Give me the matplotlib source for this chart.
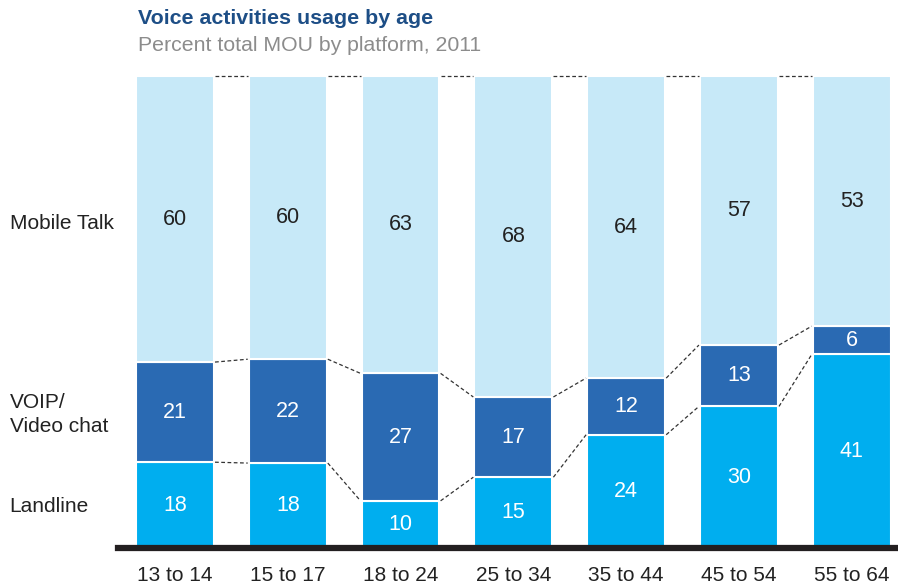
import matplotlib.pyplot as plt
import numpy as np

plt.rcParams["font.family"] = ["Liberation Sans", "DejaVu Sans"]

age_groups = ["13 to 14", "15 to 17", "18 to 24", "25 to 34", "35 to 44", "45 to 54", "55 to 64"]
landline = [18, 18, 10, 15, 24, 30, 41]
voip = [21, 22, 27, 17, 12, 13, 6]
mobile = [60, 60, 63, 68, 64, 57, 53]
row_labels = ["Landline", "VOIP/\nVideo chat", "Mobile Talk"]

c_land = "#00AEEF"
c_voip = "#2A6AB3"
c_mobile = "#C7E9F8"

fig = plt.figure(figsize=(8.98, 5.86), dpi=100)
ax = fig.add_axes([0.1314, 0.0648, 0.8686, 0.8055])

x = np.arange(len(age_groups))
width = 0.69
land = np.array(landline, dtype=float)
vo = np.array(voip, dtype=float)
mob = np.array(mobile, dtype=float)

# 100% stacked: scale each column to its own total
total = land + vo + mob
land_s = land / total * 100
vo_s = vo / total * 100
mob_s = mob / total * 100

ax.bar(x, land_s, width, color=c_land, edgecolor="white", linewidth=1.5)
ax.bar(x, vo_s, width, bottom=land_s, color=c_voip, edgecolor="white", linewidth=1.5)
ax.bar(x, mob_s, width, bottom=land_s + vo_s, color=c_mobile, edgecolor="white", linewidth=1.5)

# value labels in the middle of each segment
for i in x:
    ax.text(i, land_s[i] / 2, f"{landline[i]}", ha="center", va="center", color="white", fontsize=15.5)
    ax.text(i, land_s[i] + vo_s[i] / 2, f"{voip[i]}", ha="center", va="center", color="white", fontsize=15.5)
    ax.text(i, land_s[i] + vo_s[i] + mob_s[i] / 2, f"{mobile[i]}", ha="center", va="center",
            color="#222222", fontsize=15.5)

# dashed connectors between neighbouring bars
levels = [land_s, land_s + vo_s, land_s + vo_s + mob_s]
for lv in levels:
    for i in range(len(x) - 1):
        ax.plot([x[i] + width / 2 + 0.01, x[i + 1] - width / 2 - 0.01], [lv[i], lv[i + 1]],
                color="#333333", linestyle=(0, (3, 2)), linewidth=0.9, clip_on=False)

ax.set_xlim(-0.505, 6.41)
ax.set_ylim(0, 100)
ax.axhline(0, color="#231F20", linewidth=4.5, clip_on=False)

ax.set_xticks(x)
ax.set_xticklabels(age_groups, fontsize=15, color="#222222")
ax.tick_params(axis="x", length=0, pad=13)
ax.set_yticks([])
for s in ax.spines.values():
    s.set_visible(False)

# row labels on the left, against the first bar
first = [land_s[0] / 2 - 0.3, land_s[0] + vo_s[0] / 2 - 0.5, land_s[0] + vo_s[0] + mob_s[0] / 2 - 1.0]
for lbl, yv in zip(row_labels, first):
    ax.text(-0.505 - 0.96, yv, lbl, ha="left", va="center", fontsize=15, color="#222222",
            linespacing=1.3, clip_on=False)

fig.text(0.1537, 0.969, "Voice activities usage by age", fontsize=15.4, fontweight="bold",
         color="#1D4E86", va="center")
fig.text(0.1537, 0.923, "Percent total MOU by platform, 2011", fontsize=15.3,
         color="#8C8C8C", va="center")

plt.savefig("out.png", dpi=100)
plt.close()
